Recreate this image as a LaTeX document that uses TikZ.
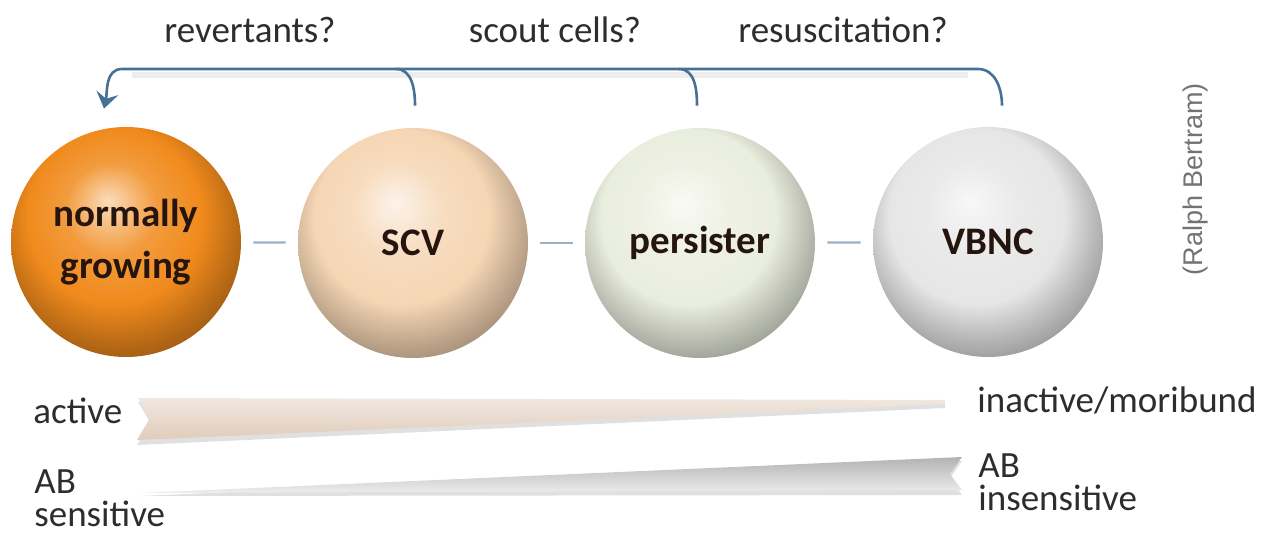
\documentclass[tikz,border=0pt]{standalone}
\usepackage{fontspec}
\setmainfont{Carlito}
\newfontfamily\creditfont{Liberation Sans}
\usetikzlibrary{arrows.meta,positioning,calc}
\definecolor{clrNG}{RGB}{240,138,28}
\definecolor{clrSCV}{RGB}{246,214,180}
\definecolor{clrPer}{RGB}{234,238,222}
\definecolor{clrVB}{RGB}{230,230,230}
\definecolor{clrLink}{RGB}{70,112,150}
\definecolor{clrTxt}{RGB}{45,45,45}
\definecolor{clrDark}{RGB}{38,20,14}
\definecolor{bgWedge}{RGB}{224,204,186}
\makeatletter
\pgfdeclareradialshading[tikz@ball]{softball}{\pgfqpoint{-4bp}{9bp}}{%
  color(0bp)=(tikz@ball!30!white); color(10bp)=(tikz@ball!85!white);
  color(19bp)=(tikz@ball); color(26bp)=(tikz@ball!78!black);
  color(34bp)=(tikz@ball!55!black); color(50bp)=(tikz@ball!55!black)}
\makeatother
\tikzset{
  cellball/.style={circle,minimum size=115pt,inner sep=0pt,
    shading=softball,align=center,text=clrDark,
    font=\fontsize{19.5}{26}\selectfont\bfseries},
  link/.style={draw=clrLink!55,line width=1.1pt,
    shorten >=6pt,shorten <=6pt},
  back/.style={draw=clrLink,line width=1.3pt},
  backtip/.style={back,-{Stealth[length=8pt,width=11pt,inset=3pt]}},
  backshade/.style={draw=black!7,line width=3pt},
  question/.style={font=\fontsize{18.5}{22}\selectfont,text=clrTxt,
    anchor=base,inner sep=0pt},
  scalelabel/.style={font=\fontsize{18.5}{16.5}\selectfont,text=clrTxt,
    align=left,inner sep=0pt},
  credit/.style={font=\creditfont\fontsize{13.5}{16}\selectfont,
    text=black!55,rotate=90}
}
\begin{document}
\begin{tikzpicture}[x=0.5pt,y=-0.5pt]
  \useasboundingbox (0,0) rectangle (1273,534);

  % cell states
  \node[cellball,ball color=clrNG,shading=softball] (ng) at (126,242)
    {normally\\growing};
  \node[cellball,ball color=clrSCV,shading=softball] (scv) at (413,243) {SCV};
  \node[cellball,ball color=clrPer,shading=softball] (per) at (700,243)
    {persister};
  \node[cellball,ball color=clrVB,shading=softball] (vbnc) at (988,242) {VBNC};
  \draw[link] (ng) -- (scv);
  \draw[link] (scv) -- (per);
  \draw[link] (per) -- (vbnc);

  % way back
  \coordinate (topL) at (122,69);
  \coordinate (topR) at (978,69);
  \coordinate (j1) at (396,69);
  \coordinate (j2) at (679,69);
  \draw[backshade] ([xshift=5pt,yshift=-3pt]topL) -- ([xshift=-5pt,yshift=-3pt]topR);
  \draw[backtip] ([xshift=7pt,yshift=10.5pt]vbnc.north)
    to[out=90,in=0] (topR) -- (topL)
    to[out=180,in=78] ([xshift=-11pt,yshift=9pt]ng.north);
  \draw[back] ([xshift=1pt,yshift=11pt]scv.north) to[out=90,in=0] (j1);
  \draw[back] ([xshift=-1.5pt,yshift=11pt]per.north) to[out=90,in=0] (j2);
  \node[question] (q1) at (250,43) {revertants?};
  \node[question] (q2) at (555,43) {scout cells?};
  \node[question] (q3) at (843,43) {resuscitation?};

  \node[credit] (ralph) at (1195,179) {(Ralph Bertram)};

  % activity wedge
  \fill[black!12] (138,402) -- (945,403) -- (945,408) -- (137,445)
    -- (150,422) -- cycle;
  \shade[top color=bgWedge!45!white,bottom color=bgWedge]
    (138,398) -- (945,400) -- (945,404) -- (137,440) -- (150,418) -- cycle;
  \node[scalelabel,anchor=base west] (act) at (33,423) {active};
  \node[scalelabel,anchor=base west] (inact) at (977,412)
    {inactive/moribund};

  % sensitivity wedge
  \fill[black!12] (140,496) -- (962,461) -- (950,478) -- (962,495) -- cycle;
  \shade[top color=black!30,bottom color=black!7]
    (140,493) -- (962,457) -- (950,474) -- (962,490) -- cycle;
  \node[scalelabel,anchor=north west] (sens) at (34,469) {AB\\sensitive};
  \node[scalelabel,anchor=north west] (insens) at (978,453)
    {AB\\insensitive};
\end{tikzpicture}
\end{document}
